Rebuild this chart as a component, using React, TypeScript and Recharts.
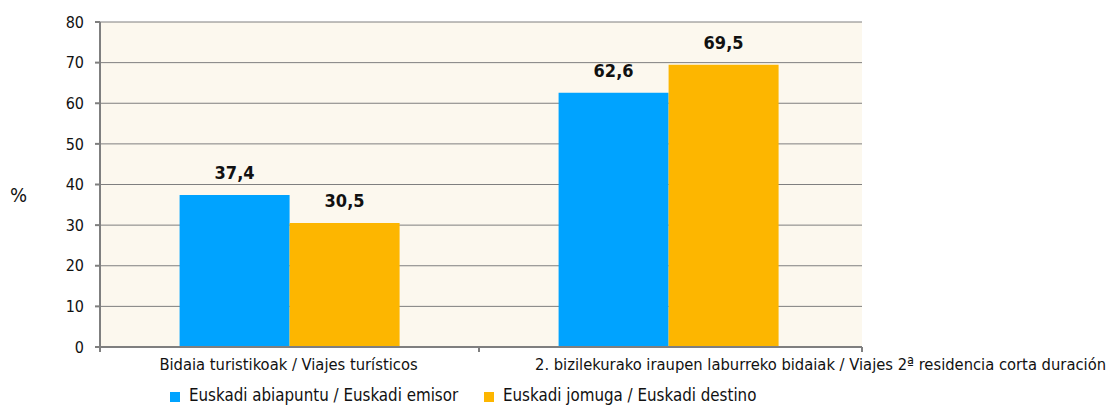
import React from "react";
import { BarChart, Bar, XAxis, YAxis, CartesianGrid, LabelList, Legend, Label } from "recharts";

const categories = [
  "Bidaia turistikoak / Viajes turísticos",
  "2. bizilekurako iraupen laburreko bidaiak / Viajes 2ª residencia corta duración",
];
const emisorValues = [37.4, 62.6];
const destinoValues = [30.5, 69.5];
const seriesNames = ["Euskadi abiapuntu / Euskadi emisor", "Euskadi jomuga / Euskadi destino"];
const yTicks = [0, 10, 20, 30, 40, 50, 60, 70, 80];

const data = categories.map((c, i) => ({ name: c, emisor: emisorValues[i], destino: destinoValues[i] }));

const FONT = "'DejaVu Sans Condensed', 'Liberation Sans', sans-serif";
const BLUE = "#00A3FF";
const ORANGE = "#FDB600";
const AXIS = "#7f7f7f";
const RIGHT_PAD = 4;

const labelDx = [-1, 152];

const XTick = (props: any) => {
  const { x, y, payload, index } = props;
  const half = payload.offset || 0;
  return (
    <g>
      <line x1={x - half} x2={x - half} y1={y - 8} y2={y - 3} stroke={AXIS} strokeWidth={2} />
      {index === categories.length - 1 && (
        <line x1={x + half + RIGHT_PAD} x2={x + half + RIGHT_PAD} y1={y - 8} y2={y - 3} stroke={AXIS} strokeWidth={2} />
      )}
      <text x={x + labelDx[index]} y={y + 15} textAnchor="middle" fontFamily={FONT} fontSize={16.4} fill="#111">
        {payload.value}
      </text>
    </g>
  );
};

const LegendContent = () => (
  <div style={{ position: "relative", height: 22, fontFamily: FONT, fontSize: 16.8, color: "#111" }}>
    {seriesNames.map((n, i) => (
      <div key={n} style={{ position: "absolute", left: i === 0 ? 170 : 484, top: 2, display: "flex", alignItems: "center", whiteSpace: "nowrap" }}>
        <span style={{ display: "inline-block", width: 10, height: 10, background: i === 0 ? BLUE : ORANGE, marginRight: 9, marginTop: 3 }} />
        <span>{n}</span>
      </div>
    ))}
  </div>
);

export default function App() {
  return (
    <div style={{ position: "absolute", left: 0, top: 0, width: 1110, height: 405, background: "#fff" }}>
      <BarChart
        width={1110}
        height={405}
        data={data}
        margin={{ top: 22, right: 248, bottom: 0, left: 0 }}
        barCategoryGap="21%"
        barGap={0}
      >
        <CartesianGrid vertical={false} stroke={AXIS} strokeWidth={1} fill="#FCF8EE" />
        <XAxis
          dataKey="name"
          height={36}
          padding={{ left: 0, right: RIGHT_PAD }}
          axisLine={{ stroke: AXIS, strokeWidth: 2 }}
          tickLine={false}
          tick={<XTick />}
          interval={0}
        />
        <YAxis
          width={100}
          domain={[0, 80]}
          ticks={yTicks}
          interval={0}
          axisLine={{ stroke: AXIS, strokeWidth: 2 }}
          tickLine={{ stroke: AXIS, strokeWidth: 2 }}
          tickSize={5}
          tickMargin={11}
          tick={{ fontFamily: FONT, fontSize: 16, fill: "#111" }}
        >
          <Label value="%" position="insideLeft" offset={10} dy={10} style={{ fontFamily: FONT, fontSize: 20, fill: "#111" }} />
        </YAxis>
        <Legend verticalAlign="bottom" content={<LegendContent />} />
        <Bar dataKey="emisor" name={seriesNames[0]} fill={BLUE} isAnimationActive={false}>
          <LabelList dataKey="emisor" position="top" offset={16} formatter={(v: any) => String(v).replace(".", ",")} style={{ fontFamily: FONT, fontSize: 18, fontWeight: "bold", fill: "#111" }} />
        </Bar>
        <Bar dataKey="destino" name={seriesNames[1]} fill={ORANGE} isAnimationActive={false}>
          <LabelList dataKey="destino" position="top" offset={16} formatter={(v: any) => String(v).replace(".", ",")} style={{ fontFamily: FONT, fontSize: 18, fontWeight: "bold", fill: "#111" }} />
        </Bar>
      </BarChart>
    </div>
  );
}
